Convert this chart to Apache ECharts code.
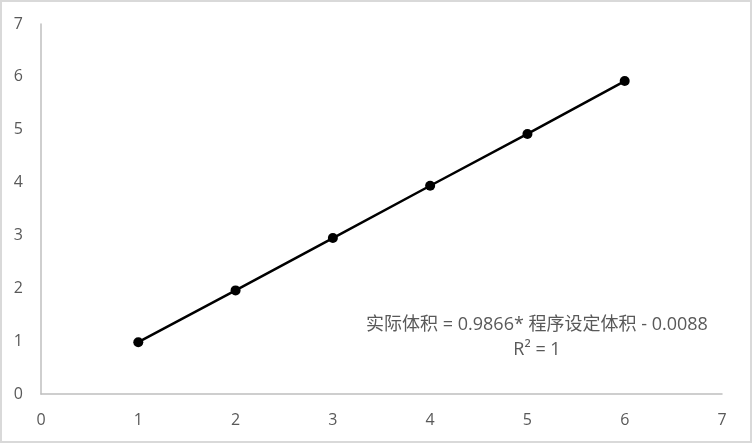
<!doctype html>
<html>
<head>
<meta charset="utf-8">
<title>实际体积与程序设定体积</title>
<script src="https://cdn.jsdelivr.net/npm/echarts@6/dist/echarts.min.js"></script>
<style>
    html,body{
        margin: 0;
        padding: 0;
        width: 100%;
        height: 100%;
        background: #fff;
    }
    #chart{
        width: 752px;
        height: 443px;
        box-sizing: border-box;
        border: 2px solid #d9d9d9;
    }
</style>
</head>
<body>
    <div id="chart"></div>
<script>
    // 程序设定体积 / 实际体积
    var setVolume = [1, 2, 3, 4, 5, 6];
    var realVolume = [0.98, 1.96, 2.95, 3.94, 4.92, 5.92];
    var axisTicks = [0, 1, 2, 3, 4, 5, 6, 7];
    var fitText = ['实际体积 = 0.9866* 程序设定体积 - 0.0088', 'R² = 1'];

    var points = setVolume.map(function(x, i){ return [x, realVolume[i]]; });

    var chart = echarts.init(document.getElementById('chart'));
    var labelStyle = {color: '#595959', fontSize: 16, fontFamily: 'Open Sans, sans-serif'};

    var option = {
        animation: false,
        grid: {left: 39, right: 28, top: 22, bottom: 47, containLabel: false},
        xAxis: {
            type: 'value',
            min: axisTicks[0],
            max: axisTicks[axisTicks.length - 1],
            interval: 1,
            splitLine: {show: false},
            axisTick: {show: false},
            axisLine: {lineStyle: {color: '#bfbfbf', width: 1.5}},
            axisLabel: Object.assign({margin: 18}, labelStyle)
        },
        yAxis: {
            type: 'value',
            min: axisTicks[0],
            max: axisTicks[axisTicks.length - 1],
            interval: 1,
            splitLine: {show: false},
            axisTick: {show: false},
            axisLine: {show: true, lineStyle: {color: '#bfbfbf', width: 1.5}},
            axisLabel: Object.assign({margin: 18}, labelStyle)
        },
        graphic: [{
            type: 'text',
            x: 535,
            y: 310,
            style: {
                text: fitText.join('\n'),
                fill: '#595959',
                font: '18px "Open Sans", "Noto Sans CJK SC", sans-serif',
                align: 'center',
                verticalAlign: 'top',
                lineHeight: 25
            }
        }],
        series: [{
            type: 'line',
            data: points,
            symbol: 'circle',
            symbolSize: 10,
            showAllSymbol: true,
            lineStyle: {color: '#000', width: 2.5},
            itemStyle: {color: '#000'}
        }]
    };
    chart.setOption(option);
</script>
</body>
</html>
